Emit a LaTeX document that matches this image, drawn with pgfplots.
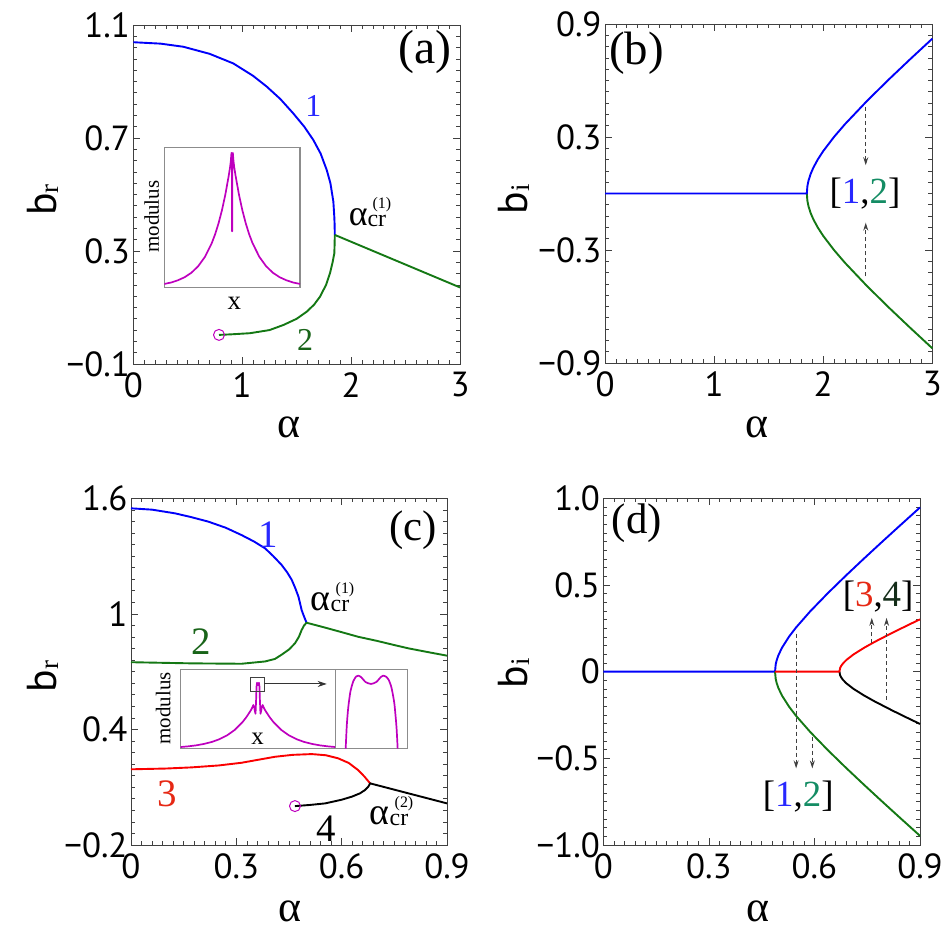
\documentclass[border=0pt]{standalone}
\usepackage{fontspec}
\setmainfont{Liberation Serif}
\newfontfamily\tickfont{PT Sans}
\usepackage{pgfplots}
\pgfplotsset{compat=1.18}
\usetikzlibrary{arrows.meta}

\definecolor{cblue}{RGB}{0,0,250}
\definecolor{cgreen}{RGB}{20,120,20}
\definecolor{cred}{RGB}{250,0,0}
\definecolor{cmag}{RGB}{190,0,190}
\definecolor{lblue}{RGB}{40,40,255}
\definecolor{lgreen}{RGB}{25,100,25}
\definecolor{lteal}{RGB}{20,140,100}
\definecolor{lred}{RGB}{230,40,20}
\definecolor{ldark}{RGB}{20,45,25}

\newcommand{\fs}[1]{\fontsize{#1}{#1}\selectfont}
% alpha_cr^(n)
\newcommand{\acr}[1]{α\rlap{\hspace{5bp}\raisebox{17bp}{\fs{16}(#1)}}\raisebox{-1bp}{\fs{24}cr}}
\newcommand{\bsub}[1]{{\tickfont b}\raisebox{-2bp}{\fs{27}#1}}

\tikzset{
  arr/.style={dashed, dash pattern=on 4bp off 3bp, black!75, line width=0.9bp,
    -{Stealth[length=8bp,width=5bp]}},
}
\pgfplotsset{
  panel/.style={
    scale only axis, anchor=south west, clip=false,
    axis line style={black!75, line width=0.9bp},
    every tick/.style={black!75, line width=0.7bp},
    tick align=inside,
    major tick length=7bp, minor tick length=4bp,
    minor x tick num=9, minor y tick num=9,
    tick label style={font=\tickfont\fs{35}},
    xticklabel style={yshift=-5bp},
    every axis plot/.append style={line width=1.9bp, line join=round},
  },
  inset/.style={
    scale only axis, anchor=south west, ticks=none,
    axis line style={black!45, line width=1.2bp},
    every axis plot/.append style={line width=1.7bp, line join=round},
  },
}

\begin{document}
\begin{tikzpicture}
\useasboundingbox (0,0) rectangle (945bp,945bp);

% ---------- (a)
\begin{axis}[panel, at={(133.3bp,581bp)}, width=326.7bp, height=339bp,
  xmin=0, xmax=3, ymin=-0.1, ymax=1.1,
  xtick={0,1,2,3}, xticklabels={0,1,2,3},
  ytick={-0.1,0.3,0.7,1.1}, yticklabels={−0.1,0.3,0.7,1.1}]
\addplot[cblue] coordinates {(0,1.039)(0.25,1.034)(0.459,1.023)(0.7,0.998)(0.918,0.964)(1.1,0.92)(1.225,0.882)(1.35,0.838)(1.469,0.787)(1.57,0.74)(1.653,0.693)(1.72,0.645)(1.776,0.587)(1.81,0.54)(1.837,0.475)(1.846,0.42)(1.849,0.389)(1.85,0.357)};
\addplot[cgreen] coordinates {(0.787,0.003)(0.9,0.005)(1.071,0.009)(1.25,0.02)(1.378,0.038)(1.5,0.06)(1.592,0.085)(1.66,0.11)(1.714,0.138)(1.77,0.18)(1.806,0.221)(1.83,0.26)(1.846,0.292)(1.849,0.33)(1.85,0.357)};
\addplot[cgreen] coordinates {(1.85,0.357)(3,0.171)};
\addplot[cmag, only marks, mark=o, mark size=5.5bp, mark options={line width=1bp}] coordinates {(0.787,0.003)};
\node[font=\fs{48}] at (axis cs:2.679,1.005) {(a)};
\node[text=lblue, font=\fs{32}] at (axis cs:1.653,0.813) {1};
\node[text=lgreen, font=\fs{32}] at (axis cs:1.577,-0.015) {2};
\node[font=\fs{36}] at (axis cs:2.15,0.439) {\acr{1}};
\end{axis}

% inset (a)
\begin{axis}[inset, at={(164.3bp,657.7bp)}, width=135.7bp, height=140bp,
  xmin=-1, xmax=1, ymin=0, ymax=1]
\addplot[cmag] coordinates {(-1,0.024)(-0.9,0.034)(-0.8,0.05)(-0.7,0.072)(-0.6,0.104)(-0.5,0.151)(-0.4,0.218)(-0.3,0.316)(-0.25,0.38)(-0.2,0.458)(-0.15,0.551)(-0.1,0.663)(-0.05,0.798)(-0.03,0.86)(-0.02,0.9)(-0.01,0.96)(-0.004,0.92)(-0.0015,0.4)(0.0015,0.4)(0.004,0.92)(0.01,0.96)(0.02,0.9)(0.03,0.86)(0.05,0.798)(0.1,0.663)(0.15,0.551)(0.2,0.458)(0.25,0.38)(0.3,0.316)(0.4,0.218)(0.5,0.151)(0.6,0.104)(0.7,0.072)(0.8,0.05)(0.9,0.034)(1,0.024)};
\end{axis}
\node[rotate=90, font=\fs{21}] at (151.7bp,728.3bp) {modulus};
\node[font=\fs{27}] at (234.3bp,641.7bp) {x};

% ---------- (b)
\begin{axis}[panel, at={(605bp,582bp)}, width=327.3bp, height=339bp,
  xmin=0, xmax=3, ymin=-0.9, ymax=0.9,
  xtick={0,1,2,3}, xticklabels={0,1,2,3},
  ytick={-0.9,-0.3,0.3,0.9}, yticklabels={−0.9,−0.3,0.3,0.9}]
\addplot[cgreen] coordinates {(1.85,0)(1.855,-0.0388)(1.865,-0.0675)(1.885,-0.104)(1.91,-0.1375)(1.95,-0.1803)(2.0,-0.225)(2.1,-0.301)(2.2,-0.3683)(2.4,-0.4905)(2.6,-0.6047)(2.8,-0.7146)(3.0,-0.822)};
\addplot[cblue] coordinates {(0,0)(1.85,0)(1.855,0.0388)(1.865,0.0675)(1.885,0.104)(1.91,0.1375)(1.95,0.1803)(2.0,0.225)(2.1,0.301)(2.2,0.3683)(2.4,0.4905)(2.6,0.6047)(2.8,0.7146)(3.0,0.822)};
\draw[arr] (axis cs:2.39,0.46) -- (axis cs:2.39,0.15);
\draw[arr] (axis cs:2.39,-0.44) -- (axis cs:2.39,-0.155);
\node[font=\fs{37}] at (axis cs:2.383,0.0) {[\textcolor{lblue}{1},\textcolor{lteal}{2}]};
\node[font=\fs{47}] at (axis cs:0.29,0.744) {(b)};
\end{axis}

% ---------- (c)
\begin{axis}[panel, at={(131bp,100bp)}, width=316bp, height=346.7bp,
  xmin=0, xmax=0.9, ymin=-0.2, ymax=1.6,
  xtick={0,0.3,0.6,0.9}, xticklabels={0,0.3,0.6,0.9},
  ytick={-0.2,0.4,1,1.6}, yticklabels={−0.2,0.4,1,1.6}]
\addplot[cblue] coordinates {(0,1.548)(0.06,1.541)(0.125,1.522)(0.17,1.503)(0.22,1.479)(0.27,1.447)(0.315,1.409)(0.35,1.376)(0.382,1.34)(0.405,1.3)(0.429,1.254)(0.445,1.215)(0.458,1.176)(0.468,1.133)(0.477,1.089)(0.486,1.02)(0.492,0.99)(0.5,0.954)};
\addplot[cgreen] coordinates {(0,0.749)(0.173,0.743)(0.315,0.741)(0.382,0.753)(0.41,0.766)(0.429,0.788)(0.45,0.815)(0.467,0.847)(0.478,0.88)(0.486,0.916)(0.493,0.94)(0.5,0.954)(0.55,0.93)(0.6,0.905)(0.647,0.881)(0.7,0.86)(0.75,0.838)(0.79,0.821)(0.85,0.8)(0.9,0.783)};
\addplot[cred] coordinates {(0,0.193)(0.1,0.197)(0.173,0.203)(0.25,0.213)(0.315,0.227)(0.37,0.245)(0.41,0.258)(0.46,0.268)(0.515,0.272)(0.555,0.266)(0.59,0.25)(0.62,0.226)(0.647,0.189)(0.665,0.155)(0.681,0.12)};
\addplot[black] coordinates {(0.467,0.002)(0.51,0.008)(0.553,0.016)(0.6,0.035)(0.629,0.051)(0.652,0.068)(0.667,0.086)(0.676,0.103)(0.681,0.12)(0.9,0.016)};
\addplot[cmag, only marks, mark=o, mark size=5.5bp, mark options={line width=1bp}] coordinates {(0.467,0.002)};
\node[font=\fs{43}] at (axis cs:0.804,1.435) {(c)};
\node[text=lblue, font=\fs{39}] at (axis cs:0.391,1.409) {1};
\node[text=lgreen, font=\fs{39}] at (axis cs:0.201,0.855) {2};
\node[text=lred, font=\fs{39}] at (axis cs:0.102,0.068) {3};
\node[font=\fs{39}] at (axis cs:0.557,-0.113) {4};
\node[font=\fs{38}] at (axis cs:0.567,1.086) {\acr{1}};
\node[font=\fs{38}] at (axis cs:0.735,-0.022) {\acr{2}};
\end{axis}

% insets (c)
\begin{axis}[inset, at={(180.7bp,196.3bp)}, width=154.6bp, height=79.4bp,
  xmin=-1, xmax=1, ymin=0, ymax=1, clip=false]
\addplot[cmag] coordinates {(-1,0.021)(-0.9,0.03)(-0.8,0.042)(-0.7,0.06)(-0.6,0.084)(-0.5,0.119)(-0.4,0.168)(-0.3,0.237)(-0.2,0.335)(-0.15,0.398)(-0.1,0.472)(-0.08,0.506)(-0.06,0.55)(-0.05,0.53)(-0.04,0.47)(-0.032,0.44)(-0.025,0.6)(-0.019,0.78)(-0.012,0.83)(-0.006,0.815)(0,0.8)(0.006,0.815)(0.012,0.83)(0.019,0.78)(0.025,0.6)(0.032,0.44)(0.04,0.47)(0.05,0.53)(0.06,0.55)(0.08,0.506)(0.1,0.472)(0.15,0.398)(0.2,0.335)(0.3,0.237)(0.4,0.168)(0.5,0.119)(0.6,0.084)(0.7,0.06)(0.8,0.042)(0.9,0.03)(1,0.021)};
\draw[black!75, line width=0.9bp] (axis cs:-0.103,0.718) rectangle (axis cs:0.082,0.899);
\draw[black!80, line width=1bp, -{Stealth[length=9bp,width=6bp]}] (axis cs:0.082,0.815) -- (axis cs:0.889,0.815);
\node[font=\fs{25}] at (axis cs:-0.005,0.13) {x};
\end{axis}
\begin{axis}[inset, at={(335.3bp,196.3bp)}, width=72bp, height=79.4bp,
  xmin=0, xmax=1, ymin=0, ymax=1]
\addplot[cmag, smooth, tension=0.4] coordinates {(0.144,0)(0.16,0.3)(0.18,0.52)(0.21,0.72)(0.25,0.85)(0.29,0.91)(0.32,0.92)(0.36,0.9)(0.42,0.84)(0.495,0.815)(0.57,0.84)(0.63,0.9)(0.667,0.92)(0.7,0.91)(0.74,0.87)(0.78,0.77)(0.82,0.57)(0.85,0.27)(0.866,0)};
\end{axis}
\node[rotate=90, font=\fs{21}] at (163.3bp,236.7bp) {modulus};

% ---------- (d)
\begin{axis}[panel, at={(603.3bp,100bp)}, width=316.7bp, height=346.7bp,
  xmin=0, xmax=0.9, ymin=-1, ymax=1,
  xtick={0,0.3,0.6,0.9}, xticklabels={0,0.3,0.6,0.9},
  ytick={-1,-0.5,0,0.5,1}, yticklabels={−1.0,−0.5,0,0.5,1.0}]
\addplot[cblue] coordinates {(0,0)(0.488,0)(0.490,0.0426)(0.493,0.0677)(0.498,0.0965)(0.508,0.1387)(0.528,0.2024)(0.548,0.2553)(0.588,0.3479)(0.638,0.4525)(0.688,0.5514)(0.738,0.6471)(0.788,0.7409)(0.838,0.8335)(0.9,0.9471)};
\addplot[cgreen] coordinates {(0.488,0)(0.490,-0.0426)(0.493,-0.0677)(0.498,-0.0965)(0.508,-0.1387)(0.528,-0.2024)(0.548,-0.2553)(0.588,-0.3479)(0.638,-0.4525)(0.688,-0.5514)(0.738,-0.6471)(0.788,-0.7409)(0.838,-0.8335)(0.9,-0.9471)};
\addplot[black] coordinates {(0.671,0)(0.673,-0.0208)(0.676,-0.033)(0.681,-0.0471)(0.691,-0.0678)(0.711,-0.0992)(0.741,-0.1375)(0.771,-0.1715)(0.821,-0.2238)(0.871,-0.2735)(0.9,-0.3017)};
\addplot[cred] coordinates {(0.488,0)(0.671,0)(0.673,0.0208)(0.676,0.033)(0.681,0.0471)(0.691,0.0678)(0.711,0.0992)(0.741,0.1375)(0.771,0.1715)(0.821,0.2238)(0.871,0.2735)(0.9,0.3017)};
\draw[arr] (axis cs:0.548,0.22) -- (axis cs:0.548,-0.558);
\draw[arr] (axis cs:0.594,-0.375) -- (axis cs:0.594,-0.558);
\draw[arr] (axis cs:0.763,0.163) -- (axis cs:0.763,0.31);
\draw[arr] (axis cs:0.805,-0.163) -- (axis cs:0.805,0.31);
\node[font=\fs{37}] at (axis cs:0.554,-0.721) {[\textcolor{lblue}{1},\textcolor{lteal}{2}]};
\node[font=\fs{37}] at (axis cs:0.781,0.432) {[\textcolor{lred}{3},\textcolor{ldark}{4}]};
\node[font=\fs{43}] at (axis cs:0.095,0.856) {(d)};
\end{axis}

% axis labels
\node[font=\fs{44}] at (289bp,518bp) {α};
\node[font=\fs{44}] at (757bp,518bp) {α};
\node[font=\fs{44}] at (289.7bp,33.3bp) {α};
\node[font=\fs{44}] at (758.3bp,33.3bp) {α};
\node[rotate=90, font=\fs{42}] at (43bp,745bp) {\bsub{r}};
\node[rotate=90, font=\fs{42}] at (43bp,268.3bp) {\bsub{r}};
\node[rotate=90, font=\fs{42}] at (513.7bp,746bp) {\bsub{i}};
\node[rotate=90, font=\fs{42}] at (513.7bp,272bp) {\bsub{i}};
\end{tikzpicture}
\end{document}
